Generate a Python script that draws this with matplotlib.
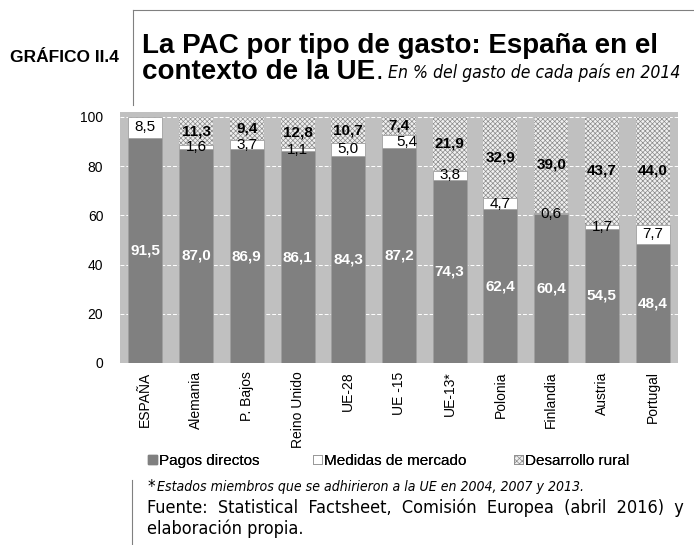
import numpy as np
import matplotlib.pyplot as plt
from matplotlib.patches import Patch

paises = ['ESPAÑA', 'Alemania', 'P. Bajos', 'Reino Unido', 'UE-28', 'UE -15',
          'UE-13*', 'Polonia', 'Finlandia', 'Austria', 'Portugal']
pagos = [91.5, 87.0, 86.9, 86.1, 84.3, 87.2, 74.3, 62.4, 60.4, 54.5, 48.4]
mercado = [8.5, 1.6, 3.7, 1.1, 5.0, 5.4, 3.8, 4.7, 0.6, 1.7, 7.7]
rural = [0.0, 11.3, 9.4, 12.8, 10.7, 7.4, 21.9, 32.9, 39.0, 43.7, 44.0]
series = ['Pagos directos', 'Medidas de mercado', 'Desarrollo rural']

plt.rcParams['hatch.linewidth'] = 0.5
plt.rcParams['font.family'] = ['Liberation Sans', 'DejaVu Sans']

fig = plt.figure(figsize=(6.94, 5.45), dpi=100)
ax = fig.add_axes([0.1729, 0.334, 0.804, 0.4606])
ax.set_facecolor('#c0c0c0')
for spine in ax.spines.values():
    spine.set_visible(False)

x = np.arange(len(paises))
w = 0.67
pagos_a = np.array(pagos)
mercado_a = np.array(mercado)
rural_a = np.array(rural)

ax.bar(x, pagos_a, w, color='#808080', edgecolor='#a0a0a0', linewidth=0.6, zorder=3)
ax.bar(x, mercado_a, w, bottom=pagos_a, color='white', edgecolor='#a0a0a0', linewidth=0.6, zorder=3)
ax.bar(x, rural_a, w, bottom=pagos_a + mercado_a, color='#f0f0f0', edgecolor='#8a8a8a',
       hatch='xxxxxxx', linewidth=0, zorder=3)

for i in range(len(paises)):
    ax.text(x[i], pagos_a[i] / 2, f'{pagos[i]:.1f}'.replace('.', ','), ha='center', va='center',
            color='white', fontweight='bold', fontsize=11, zorder=4)
    ax.text(x[i] + (0.15 if i == 5 else 0), pagos_a[i] + mercado_a[i] / 2,
            f'{mercado[i]:.1f}'.replace('.', ','), ha='center', va='center',
            color='black', fontsize=11, zorder=4)
    if rural[i] > 0:
        ax.text(x[i], pagos_a[i] + mercado_a[i] + rural_a[i] / 2,
                f'{rural[i]:.1f}'.replace('.', ','), ha='center', va='center',
                color='black', fontweight='bold', fontsize=11, zorder=4)

ax.set_xlim(-0.5, len(paises) - 0.5)
ax.set_ylim(0, 102)
ax.set_yticks([0, 20, 40, 60, 80, 100])
ax.yaxis.grid(True, color='white', linestyle=(0, (4, 2)), linewidth=0.7, zorder=1)
ax.set_axisbelow(True)
ax.set_xticks(x)
ax.set_xticklabels(paises, rotation=90, fontsize=9.5)
ax.tick_params(length=0, labelsize=10)
ax.tick_params(axis='y', pad=12)
ax.tick_params(axis='x', pad=6)

handles = [Patch(facecolor='#808080', edgecolor='#808080'),
           Patch(facecolor='white', edgecolor='#909090', linewidth=0.6),
           Patch(facecolor='#f0f0f0', edgecolor='#8a8a8a', hatch='xxxxxx', linewidth=0.6)]
legend_x = [148, 313, 514]
for h, lab, lx in zip(handles, series, legend_x):
    leg = fig.legend([h], [lab], loc='center left', bbox_to_anchor=(lx / 694, 1 - 461 / 545),
                     frameon=False, fontsize=11, handlelength=0.6, handleheight=0.6,
                     handletextpad=0.15, borderaxespad=0, borderpad=0)
    fig.add_artist(leg)

# frame lines
fig.add_artist(plt.Line2D([133 / 694, 133 / 694], [1 - 10 / 545, 1 - 105 / 545],
                          color='#808080', linewidth=0.8))
fig.add_artist(plt.Line2D([133 / 694, 1.0], [1 - 10 / 545, 1 - 10 / 545],
                          color='#808080', linewidth=0.8))
fig.add_artist(plt.Line2D([132 / 694, 132 / 694], [1 - 480 / 545, 0.0],
                          color='#808080', linewidth=0.8))

cond = dict(family='DejaVu Sans', stretch='condensed')

fig.text(10 / 694, 1 - 57 / 545, 'GRÁFICO II.4', fontsize=12.5, fontweight='bold', va='center')
fig.text(142 / 694, 1 - 46 / 545, 'La PAC por tipo de gasto: España en el',
         fontsize=20, fontweight='bold', va='center')
t1 = fig.text(142 / 694, 1 - 72 / 545, 'contexto de la UE', fontsize=20,
              fontweight='bold', va='center')
fig.canvas.draw()
bb = t1.get_window_extent()
t2 = fig.text(bb.x1 / 694, 1 - 72 / 545, '.', fontsize=20, va='center')
fig.canvas.draw()
bb2 = t2.get_window_extent()
fig.text(bb2.x1 / 694 + 0.008, 1 - 73 / 545, 'En % del gasto de cada país en 2014',
         fontsize=12.6, style='italic', va='center', **cond)

fig.text(148 / 694, 1 - 487 / 545, '*', fontsize=12, va='center', **cond)
fig.text(157 / 694, 1 - 487 / 545, 'Estados miembros que se adhirieron a la UE en 2004, 2007 y 2013.',
         fontsize=10.1, style='italic', va='center', **cond)
fig.text(147 / 694, 1 - 508 / 545,
         'Fuente:  Statistical  Factsheet,  Comisión  Europea  (abril  2016)  y',
         fontsize=13, va='center', **cond)
fig.text(147 / 694, 1 - 529 / 545, 'elaboración propia.', fontsize=13, va='center', **cond)

plt.savefig('out.png', dpi=100)
